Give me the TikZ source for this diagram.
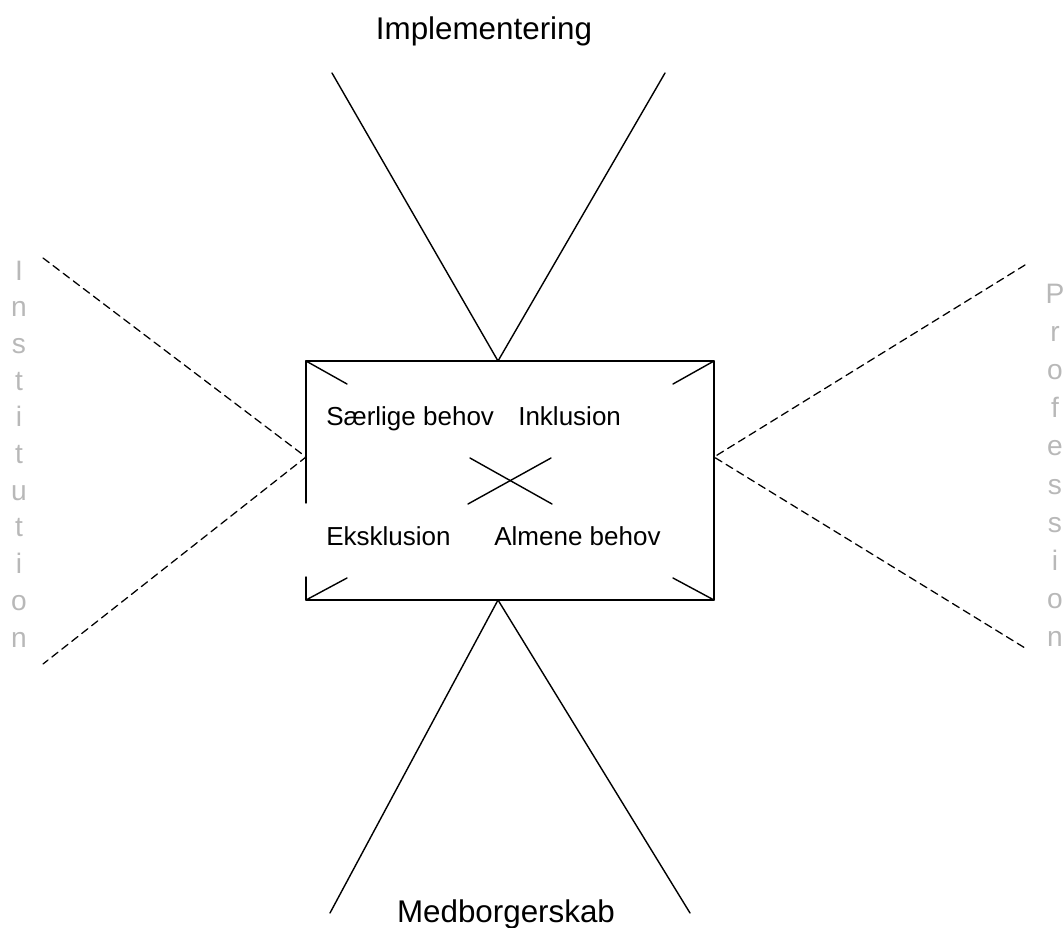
\documentclass[tikz,border=0pt]{standalone}
\usepackage{fontspec}
\setmainfont{Liberation Sans}
\begin{document}
\begin{tikzpicture}[x=0.025cm,y=-0.025cm,line join=round,line cap=round]
			\definecolor{paleletter}{rgb}{0.72, 0.72, 0.72}
			\tikzset{
				lbl/.style={inner sep=0pt,font=\fontsize{22.3}{26}\selectfont},
				inlbl/.style={inner sep=0pt,font=\fontsize{18.5}{22}\selectfont},
				vlet/.style={inner sep=0pt,text=paleletter,font=\fontsize{20}{24}\selectfont},
				solidln/.style={line width=1pt},
				dashln/.style={line width=0.9pt,dash pattern=on 5.5pt off 3.5pt}
			}
			\useasboundingbox (0,0) rectangle (1064,927);
			
			% boksens hjoerner og midtpunkter
			\coordinate (tl) at (306,361);
			\coordinate (tr) at (714,361);
			\coordinate (bl) at (306,600);
			\coordinate (br) at (714,600);
			\coordinate (tm) at (498,361);
			\coordinate (bm) at (498,600);
			\coordinate (lm) at (306,457);
			\coordinate (rm) at (714,457);
			
			\draw[solidln] (306,503)--(tl)--(tr)--(br)--(bl)--(306,577);
			\draw[solidln] (tl)--(347,384);
			\draw[solidln] (tr)--(673,384);
			\draw[solidln] (bl)--(347,578);
			\draw[solidln] (br)--(673,578);
			\draw[solidln] (470,458)--(552,504);
			\draw[solidln] (468,504)--(551,458);
			
			% aksernes ender
			\coordinate (topL) at (332,73);
			\coordinate (topR) at (665,73);
			\coordinate (botL) at (330,913);
			\coordinate (botR) at (690,913);
			\coordinate (lefU) at (43,258);
			\coordinate (lefD) at (43,664);
			\coordinate (rigU) at (1025,265);
			\coordinate (rigD) at (1025,648);
			
			\draw[solidln] (topL)--(tm)--(topR);
			\draw[solidln] (botL)--(bm)--(botR);
			\draw[dashln] (lefU)--(lm)--(lefD);
			\draw[dashln] (rigU)--(rm)--(rigD);
			
			\node[lbl,anchor=base] (impl) at (484,39) {Implementering};
			\node[lbl,anchor=base] (medb) at (506,922) {Medborgerskab};
			\node[inlbl,anchor=base west] (saerlig) at (326,425) {Særlige behov};
			\node[inlbl,anchor=base west] (inkl) at (518,425) {Inklusion};
			\node[inlbl,anchor=base west] (ekskl) at (326,545) {Eksklusion};
			\node[inlbl,anchor=base west] (almen) at (494,545) {Almene behov};
			
			%%%%%%%%%%%%%%%%%%
			\foreach \l [count=\i] in {I,n,s,t,i,t,u,t,i,o,n}
				\node[vlet,anchor=base] (inst\i) at (19,{280+(\i-1)*36.7}) {\l};
			\foreach \l [count=\i] in {P,r,o,f,e,s,s,i,o,n}
				\node[vlet,anchor=base] (prof\i) at (1055,{303+(\i-1)*38.2}) {\l};
		\end{tikzpicture}
\end{document}
